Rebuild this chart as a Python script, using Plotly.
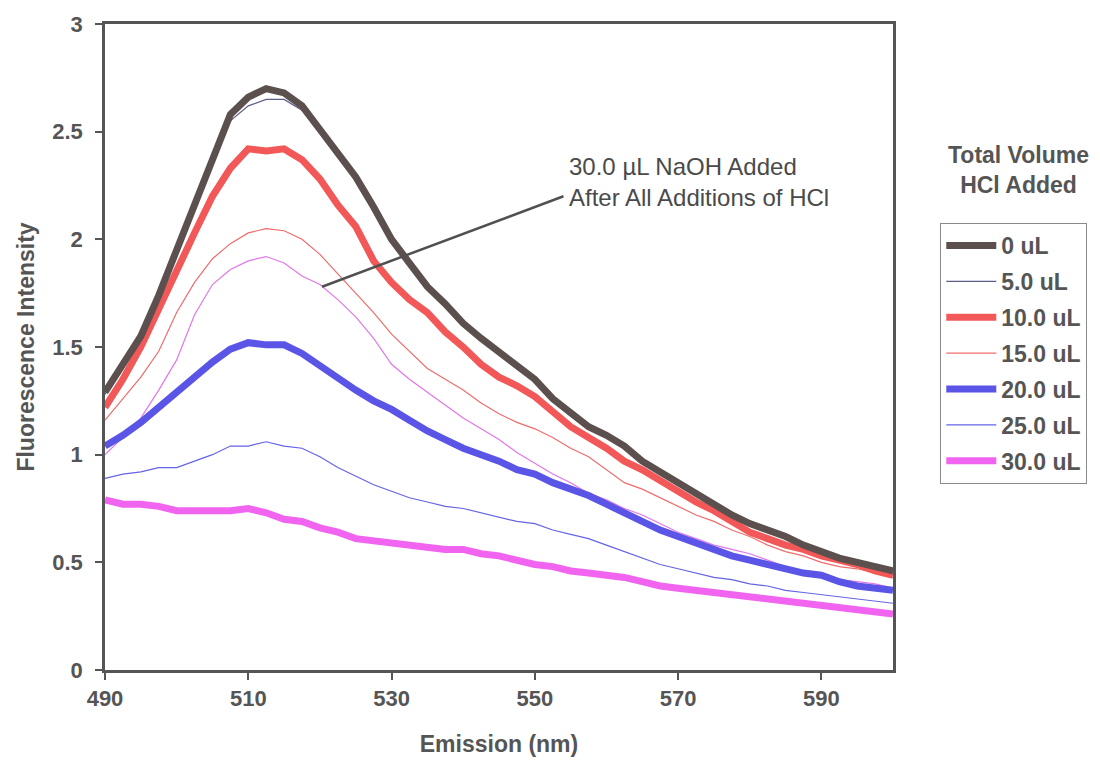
import plotly.graph_objects as go

# Emission wavelengths (nm)
wavelength = [490 + 2.5 * i for i in range(45)]

hcl_0 = [1.29, 1.42, 1.55, 1.74, 1.95, 2.16, 2.38, 2.58, 2.66, 2.70, 2.68, 2.62, 2.51, 2.40, 2.29,
         2.15, 2.00, 1.89, 1.78, 1.70, 1.61, 1.54, 1.48, 1.41, 1.35, 1.26, 1.19, 1.13, 1.09, 1.04,
         0.97, 0.92, 0.87, 0.82, 0.77, 0.72, 0.68, 0.65, 0.62, 0.58, 0.55, 0.52, 0.50, 0.48, 0.46]
hcl_5 = [1.28, 1.41, 1.54, 1.73, 1.94, 2.15, 2.36, 2.55, 2.62, 2.65, 2.65, 2.60, 2.50, 2.39, 2.28,
         2.14, 1.99, 1.88, 1.77, 1.69, 1.60, 1.53, 1.47, 1.40, 1.34, 1.25, 1.18, 1.12, 1.08, 1.03,
         0.96, 0.91, 0.86, 0.81, 0.76, 0.71, 0.67, 0.64, 0.61, 0.57, 0.54, 0.51, 0.49, 0.47, 0.45]
hcl_10 = [1.22, 1.35, 1.50, 1.68, 1.86, 2.03, 2.20, 2.33, 2.42, 2.41, 2.42, 2.37, 2.28, 2.16, 2.06,
          1.90, 1.80, 1.72, 1.66, 1.57, 1.50, 1.42, 1.36, 1.32, 1.27, 1.20, 1.13, 1.08, 1.03, 0.97,
          0.93, 0.88, 0.83, 0.78, 0.74, 0.69, 0.64, 0.61, 0.58, 0.56, 0.53, 0.51, 0.49, 0.46, 0.44]
hcl_15 = [1.16, 1.26, 1.36, 1.48, 1.66, 1.80, 1.91, 1.98, 2.03, 2.05, 2.04, 2.00, 1.93, 1.84, 1.75,
          1.66, 1.56, 1.48, 1.40, 1.35, 1.30, 1.24, 1.19, 1.15, 1.12, 1.08, 1.03, 0.99, 0.93, 0.87,
          0.84, 0.80, 0.76, 0.72, 0.69, 0.65, 0.62, 0.58, 0.55, 0.53, 0.50, 0.48, 0.47, 0.45, 0.43]
hcl_20 = [1.04, 1.09, 1.15, 1.22, 1.29, 1.37, 1.43, 1.49, 1.52, 1.51, 1.51, 1.47, 1.41, 1.36, 1.30,
          1.25, 1.21, 1.16, 1.11, 1.07, 1.03, 1.00, 0.97, 0.93, 0.91, 0.87, 0.84, 0.81, 0.77, 0.73,
          0.69, 0.65, 0.62, 0.59, 0.56, 0.53, 0.51, 0.49, 0.47, 0.45, 0.44, 0.41, 0.39, 0.38, 0.37]
hcl_25 = [0.89, 0.91, 0.92, 0.94, 0.94, 0.97, 1.00, 1.04, 1.04, 1.06, 1.04, 1.03, 0.99, 0.94, 0.90,
          0.86, 0.83, 0.80, 0.78, 0.76, 0.75, 0.73, 0.71, 0.69, 0.68, 0.65, 0.63, 0.61, 0.58, 0.55,
          0.52, 0.49, 0.47, 0.45, 0.43, 0.42, 0.40, 0.39, 0.37, 0.36, 0.35, 0.34, 0.33, 0.32, 0.31]
hcl_30 = [0.79, 0.77, 0.77, 0.76, 0.74, 0.74, 0.74, 0.74, 0.75, 0.73, 0.70, 0.69, 0.66, 0.64, 0.61,
          0.60, 0.59, 0.58, 0.57, 0.56, 0.56, 0.54, 0.53, 0.51, 0.49, 0.48, 0.46, 0.45, 0.44, 0.43,
          0.41, 0.39, 0.38, 0.37, 0.36, 0.35, 0.34, 0.33, 0.32, 0.31, 0.30, 0.29, 0.28, 0.27, 0.26]
naoh_30 = [1.00, 1.08, 1.17, 1.30, 1.44, 1.65, 1.79, 1.86, 1.90, 1.92, 1.89, 1.83, 1.79, 1.72, 1.64,
           1.54, 1.42, 1.35, 1.29, 1.23, 1.17, 1.12, 1.07, 1.01, 0.96, 0.91, 0.87, 0.82, 0.79, 0.75,
           0.72, 0.68, 0.64, 0.61, 0.58, 0.56, 0.54, 0.51, 0.48, 0.46, 0.44, 0.42, 0.41, 0.40, 0.38]

series_names = ["0 uL", "5.0 uL", "10.0 uL", "15.0 uL", "20.0 uL", "25.0 uL", "30.0 uL"]
series_values = [hcl_0, hcl_5, hcl_10, hcl_15, hcl_20, hcl_25, hcl_30]
series_colors = ["#5b504d", "#5c5c88", "#f25858", "#f06c6c", "#5a55e6", "#6464e4", "#f064f0"]
series_widths = [7, 1.2, 7, 1.2, 7, 1.2, 7]

x_ticks = [490, 510, 530, 550, 570, 590]
y_ticks = [0, 0.5, 1, 1.5, 2, 2.5, 3]

FONT = "Arial, Liberation Sans, sans-serif"
GREY = "#555555"

fig = go.Figure()

fig.add_trace(go.Scatter(x=wavelength, y=naoh_30, mode="lines", name="30.0 uL NaOH",
                         line=dict(color="#e276ea", width=1.2), showlegend=False))

order = [6, 5, 4, 3, 2, 1, 0]
for i in order:
    fig.add_trace(go.Scatter(
        x=wavelength, y=series_values[i], mode="lines", name=series_names[i],
        line=dict(color=series_colors[i], width=series_widths[i]),
        legendgroup=series_names[i], legendrank=i + 1,
    ))

# annotation pointer line
fig.add_shape(type="line", x0=520.3, y0=1.78, x1=554.0, y1=2.20,
              line=dict(color="#505050", width=2.5), layer="above")
fig.add_annotation(x=554.5, y=2.265, xref="x", yref="y", xanchor="left", yanchor="middle",
                   text="30.0 µL NaOH Added<br>After All Additions of HCl", showarrow=False,
                   align="left", font=dict(family=FONT, size=24, color="#4a4a4a"))

# legend title (outside box)
fig.add_annotation(x=(1018 - 105) / 788, y=(672 - 170) / 648, xref="paper", yref="paper",
                   xanchor="center", yanchor="middle", showarrow=False,
                   text="<b>Total Volume<br>HCl Added</b>", align="center",
                   font=dict(family=FONT, size=23, color=GREY))

fig.update_layout(
    width=1100, height=765,
    margin=dict(l=105, r=207, t=24, b=93),
    paper_bgcolor="white", plot_bgcolor="white",
    font=dict(family=FONT, size=22, color=GREY),
    legend=dict(
        x=1.06, y=0.692, xanchor="left", yanchor="top",
        bordercolor="#8a8a8a", borderwidth=1, bgcolor="white",
        font=dict(family=FONT, size=23, color=GREY, weight="bold"),
        traceorder="grouped", tracegroupgap=3, itemwidth=50,
    ),
    xaxis=dict(
        range=[490, 600], tickvals=x_ticks, ticks="outside", ticklen=7, tickwidth=1.5,
        tickcolor=GREY, showline=True, linewidth=2.5, linecolor=GREY, mirror=True,
        showgrid=False, zeroline=False,
        tickfont=dict(family=FONT, size=22, color=GREY, weight="bold"),
        title=dict(text="<b>Emission (nm)</b>", font=dict(family=FONT, size=23, color=GREY), standoff=26),
    ),
    yaxis=dict(
        range=[0, 3], tickvals=y_ticks, ticks="outside", ticklen=7, tickwidth=1.5,
        tickcolor=GREY, showline=True, linewidth=2.5, linecolor=GREY, mirror=True,
        showgrid=False, zeroline=False, ticklabelstandoff=8,
        tickfont=dict(family=FONT, size=22, color=GREY, weight="bold"),
        title=dict(text="<b>Fluorescence Intensity</b>", font=dict(family=FONT, size=23, color=GREY), standoff=12),
    ),
)

fig.write_html("out.html")
